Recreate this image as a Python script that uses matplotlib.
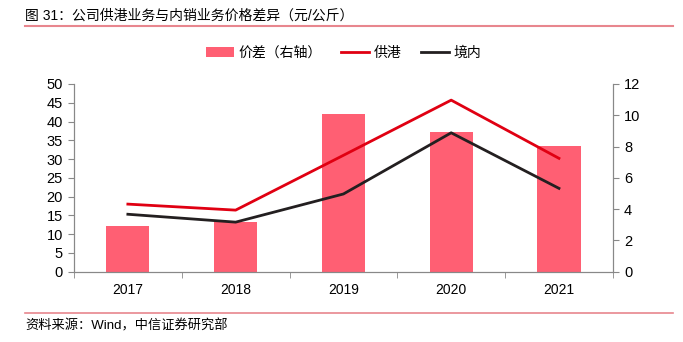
import matplotlib.pyplot as plt
import numpy as np

plt.rcParams['font.family'] = ['Liberation Sans', 'Noto Sans CJK SC', 'DejaVu Sans']

years = ['2017', '2018', '2019', '2020', '2021']
price_gap = [2.9, 3.2, 10.05, 8.9, 8.05]      # right axis
gonggang = [18.0, 16.4, 31.0, 45.7, 30.2]     # 供港
jingnei = [15.3, 13.2, 20.7, 37.0, 22.2]      # 境内

fig = plt.figure(figsize=(6.83, 3.42), dpi=100)
ax = fig.add_axes([0.1083, 0.2056, 0.789, 0.5488])
ax2 = ax.twinx()

x = np.arange(len(years))
bars = ax2.bar(x, price_gap, width=0.4, color='#FF5F73', label='价差（右轴）', zorder=1)
l1, = ax.plot(x, gonggang, color='#E00012', lw=2, label='供港', zorder=3)
l2, = ax.plot(x, jingnei, color='#231F20', lw=2, label='境内', zorder=3)

ax.set_zorder(ax2.get_zorder() + 1)
ax.patch.set_visible(False)

ax.set_xlim(-0.5, 4.5)
ax.set_ylim(0, 50)
ax.set_yticks(range(0, 51, 5))
ax2.set_ylim(0, 12)
ax2.set_yticks(range(0, 13, 2))

ax.set_xticks(x)
ax.set_xticklabels(years)
ax.set_xticks(np.arange(-0.5, 5, 1), minor=True)
ax.tick_params(axis='x', which='major', length=0, pad=8, labelsize=10)
ax.tick_params(axis='x', which='minor', length=4, color='#888888')
ax.tick_params(axis='y', length=4, color='#888888', labelsize=10.5, pad=4)
ax2.tick_params(axis='y', length=4, color='#888888', labelsize=10.5, pad=4)

for a in (ax, ax2):
    for s in a.spines.values():
        s.set_color('#888888')
        s.set_linewidth(0.8)
    a.spines['top'].set_visible(False)

fig.legend([bars, l1, l2], ['价差（右轴）', '供港', '境内'], loc='center',
           bbox_to_anchor=(0.503, 0.845), ncol=3, frameon=False, fontsize=10,
           handlelength=2.0, columnspacing=1.4, handletextpad=0.35)

fig.text(0.037, 0.955, '图 31：公司供港业务与内销业务价格差异（元/公斤）', fontsize=10,
         va='center', ha='left')
fig.add_artist(plt.Line2D([0.037, 0.985], [0.925, 0.925], color='#E8868E', lw=1.5))
fig.add_artist(plt.Line2D([0.037, 0.985], [0.085, 0.085], color='#E8868E', lw=1.2))
fig.text(0.037, 0.048, '资料来源：Wind，中信证券研究部', fontsize=9.5, va='center', ha='left')

fig.savefig('out.png', dpi=100)
